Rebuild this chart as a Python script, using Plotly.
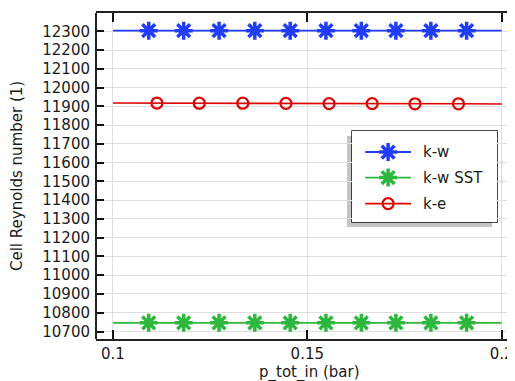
import plotly.graph_objects as go

# ---- data ----
p_line = [0.10, 0.11, 0.12, 0.13, 0.14, 0.15, 0.16, 0.17, 0.18, 0.19, 0.20]
re_kw = [12304, 12304, 12304, 12304, 12304, 12304, 12304, 12304, 12304, 12304, 12304]
re_kwsst = [10746, 10746, 10746, 10746, 10746, 10746, 10746, 10746, 10746, 10746, 10746]
re_ke = [11918, 11918, 11917, 11917, 11916, 11916, 11915, 11915, 11914, 11914, 11913]

p_mark_kw = [0.1092, 0.1182, 0.1273, 0.1365, 0.1456, 0.1548, 0.1639, 0.1728, 0.1818, 0.1910]
re_mark_kw = [12304] * 10
re_mark_kwsst = [10746] * 10
p_mark_ke = [0.1113, 0.1222, 0.1334, 0.1445, 0.1556, 0.1667, 0.1777, 0.1889]
re_mark_ke = [11918, 11917, 11917, 11916, 11915, 11915, 11914, 11914]

series_names = ["k-w", "k-w SST", "k-e"]
colors = ["#1f3cff", "#2db83d", "#e00000"]

x_ticks = [0.1, 0.15, 0.2]
x_ticklabels = ["0.1", "0.15", "0.2"]
y_ticks = list(range(10700, 12301, 100))
y_ticklabels = [str(v) for v in y_ticks]

FONT = "DejaVu Sans"
OFF = 8  # page body margin
W, H = 515 - OFF, 381 - OFF
# plot area in page pixels
PL, PR, PT, PB = 96, 515, 13, 339
ML, MR, MT, MB = PL - OFF, (515 - PR), PT - OFF, 381 - PB
PW, PH = W - ML - MR, H - MT - MB

fig = go.Figure()

# lines
for xs, ys, c in [(p_line, re_kw, colors[0]), (p_line, re_kwsst, colors[1]), (p_line, re_ke, colors[2])]:
    fig.add_trace(go.Scatter(x=xs, y=ys, mode="lines", line=dict(color=c, width=1.6),
                             showlegend=False, hoverinfo="skip"))
# markers
fig.add_trace(go.Scatter(x=p_mark_kw, y=re_mark_kw, mode="markers", showlegend=False,
                         marker=dict(symbol="asterisk-open", size=15, color=colors[0],
                                     line=dict(width=3.5, color=colors[0]))))
fig.add_trace(go.Scatter(x=p_mark_kw, y=re_mark_kwsst, mode="markers", showlegend=False,
                         marker=dict(symbol="asterisk-open", size=15, color=colors[1],
                                     line=dict(width=3.5, color=colors[1]))))
fig.add_trace(go.Scatter(x=p_mark_ke, y=re_mark_ke, mode="markers", showlegend=False,
                         marker=dict(symbol="circle-open", size=11, color=colors[2],
                                     line=dict(width=2.2, color=colors[2]))))

def px_to_paper_x(px):
    return (px - PL) / PW

def py_to_paper_y(py):
    return (PB - py) / PH

# ---- custom legend (overlay axes) ----
bx0, bx1, by0, by1 = 352, 497, 131, 222
leg_rows = [0.769, 0.488, 0.202]
for i, (name, c) in enumerate(zip(series_names, colors)):
    yv = leg_rows[i]
    fig.add_trace(go.Scatter(x=[0.091, 0.407], y=[yv, yv], mode="lines", xaxis="x2", yaxis="y2",
                             line=dict(color=c, width=1.8), showlegend=False, hoverinfo="skip"))
    if i < 2:
        mk = dict(symbol="asterisk-open", size=15, color=c, line=dict(width=3.5, color=c))
    else:
        mk = dict(symbol="circle-open", size=11, color=c, line=dict(width=2.2, color=c))
    fig.add_trace(go.Scatter(x=[0.249], y=[yv], mode="markers", xaxis="x2", yaxis="y2",
                             marker=mk, showlegend=False, hoverinfo="skip"))

annotations = []
for i, name in enumerate(series_names):
    annotations.append(dict(x=0.476, y=leg_rows[i], xref="x2", yref="y2", text=name,
                            showarrow=False, xanchor="left", yanchor="middle",
                            font=dict(family=FONT, size=15, color="#1a1a1a")))

annotations.append(dict(x=px_to_paper_x(309), y=0, xref="paper", yref="paper",
                        text="p_tot_in (bar)", showarrow=False, xanchor="center", yanchor="middle",
                        yshift=-(372 - PB), font=dict(family=FONT, size=15, color="#1a1a1a")))
annotations.append(dict(x=0, y=py_to_paper_y(176), xref="paper", yref="paper",
                        text="Cell Reynolds number (1)", showarrow=False, textangle=-90,
                        xanchor="center", yanchor="middle", xshift=17 - PL,
                        font=dict(family=FONT, size=15, color="#1a1a1a")))

shapes = [
    dict(type="rect", xref="paper", yref="paper",
         x0=px_to_paper_x(bx0 - 5), x1=px_to_paper_x(bx1 - 5),
         y0=py_to_paper_y(by1 + 5), y1=py_to_paper_y(by0 + 5),
         fillcolor="#c4c4c4", line=dict(width=0), layer="between"),
    dict(type="rect", xref="paper", yref="paper",
         x0=px_to_paper_x(bx0), x1=px_to_paper_x(bx1),
         y0=py_to_paper_y(by1), y1=py_to_paper_y(by0),
         fillcolor="white", line=dict(color="#111111", width=1.5), layer="between"),
    # left spine
    dict(type="line", xref="paper", yref="paper", x0=0, x1=0, y0=0, y1=1,
         line=dict(color="#222222", width=2)),
]

fig.update_layout(
    width=W, height=H,
    margin=dict(l=ML, r=MR, t=MT, b=MB, pad=0),
    paper_bgcolor="white", plot_bgcolor="white",
    font=dict(family=FONT, size=15, color="#1a1a1a"),
    showlegend=False,
    annotations=annotations,
    shapes=shapes,
    xaxis=dict(range=[0.09563, 0.20345], tickvals=x_ticks, ticktext=x_ticklabels,
               ticks="inside", ticklen=9, tickwidth=2, tickcolor="#111111",
               showline=True, linecolor="#222222", linewidth=2, mirror="ticks",
               showgrid=True, gridcolor="#dedede", gridwidth=1, zeroline=False,
               tickfont=dict(family=FONT, size=15, color="#1a1a1a")),
    yaxis=dict(range=[10660, 12398], tickvals=y_ticks, ticktext=y_ticklabels,
               ticks="inside", ticklen=8, tickwidth=1.5, tickcolor="#111111",
               showline=False, mirror="ticks",
               showgrid=True, gridcolor="#dedede", gridwidth=1, zeroline=False,
               ticklabelstandoff=5,
               tickfont=dict(family=FONT, size=15, color="#1a1a1a")),
    xaxis2=dict(domain=[px_to_paper_x(bx0), px_to_paper_x(bx1)], range=[0, 1], anchor="y2",
                visible=False, fixedrange=True),
    yaxis2=dict(domain=[py_to_paper_y(by1), py_to_paper_y(by0)], range=[0, 1], anchor="x2",
                visible=False, fixedrange=True),
)

fig.write_html("out.html")
